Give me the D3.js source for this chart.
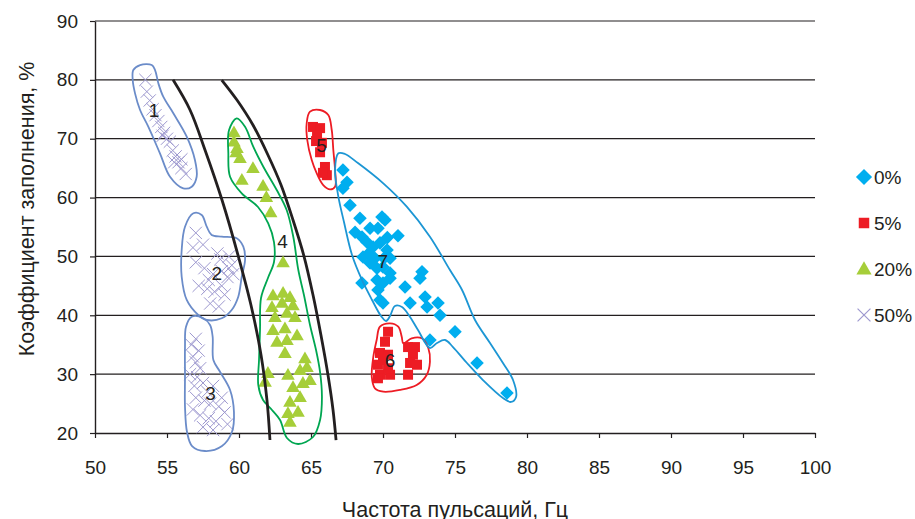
<!DOCTYPE html>
<html>
<head>
<meta charset="utf-8">
<script src="https://cdn.jsdelivr.net/npm/d3@7"></script>
<style>
  html, body { margin: 0; padding: 0; background: #fff; }
  svg { display: block; font-family: "Liberation Sans", Arial, Helvetica, sans-serif; }
</style>
</head>
<body>
<svg id="chart" width="915" height="519"></svg>
<script>
// Pulsation frequency (Hz) vs fill factor (%), by additive share
const xTicks = [50, 55, 60, 65, 70, 75, 80, 85, 90, 95, 100];
const yTicks = [20, 30, 40, 50, 60, 70, 80, 90];
const seriesNames = ["0%", "5%", "20%", "50%"];

// 0% — diamonds
const points0 = [
  [67.22, 64.7], [67.5, 62.6], [67.22, 61.6], [67.71, 58.7], [68.4, 56.5], [69.93, 56.7],
  [71.04, 53.5], [68.06, 54.1], [68.54, 53.3], [69.1, 54.8], [69.65, 54.8], [68.89, 52.4],
  [69.31, 51.6], [69.79, 52.3], [70.28, 51.1], [70.49, 49.7], [68.61, 49.9], [69.1, 48.9],
  [69.58, 48.0], [70.0, 48.2], [70.49, 47.2], [68.54, 45.5], [69.58, 46.0], [70.0, 45.5],
  [70.49, 46.3], [69.65, 44.3], [71.53, 44.8], [72.71, 47.4], [72.57, 46.3], [72.92, 43.1],
  [73.82, 42.1], [71.88, 42.1], [69.79, 42.6], [70.0, 42.1], [73.06, 41.4], [73.96, 40.0],
  [73.26, 35.8], [75.0, 37.2], [76.53, 31.9], [78.61, 26.8], [70.14, 56.2], [70.07, 49.7],
  [69.44, 49.7], [69.0, 50.5], [70.3, 53.2]
];
// 5% — squares
const points5 = [
  [65.14, 72.0], [65.63, 71.8], [65.42, 70.6], [65.76, 69.3], [65.63, 67.7], [65.97, 65.2],
  [66.1, 63.8], [65.83, 64.2], [65.35, 69.6],
  [70.35, 37.2], [70.14, 35.5], [69.79, 33.6], [69.65, 31.6], [69.79, 29.9], [70.49, 29.9],
  [70.35, 31.0], [70.35, 33.3], [71.74, 34.6], [72.22, 34.6], [72.08, 33.3], [71.88, 31.9],
  [71.74, 29.9], [72.36, 31.6], [70.0, 32.4], [69.65, 29.3]
];
// 20% — triangles
const points20 = [
  [59.65, 71.1], [59.65, 69.5], [59.86, 68.4], [59.8, 67.7], [60.07, 66.7], [60.97, 65.0],
  [60.2, 63.0], [61.67, 62.0], [61.9, 60.1], [62.2, 57.5], [63.06, 49.0],
  [62.36, 43.4], [63.06, 43.8], [63.54, 43.1], [62.29, 41.4], [62.99, 42.1], [63.75, 41.7],
  [62.5, 39.7], [63.33, 40.4], [63.89, 39.7], [62.36, 37.5], [63.19, 37.8], [64.03, 36.6],
  [62.64, 35.5], [63.33, 35.8], [63.19, 33.6], [64.58, 32.7], [62.01, 30.2], [61.81, 28.7],
  [63.4, 29.9], [64.24, 30.7], [64.72, 31.2], [64.93, 29.0], [63.75, 27.8], [64.44, 28.5],
  [64.24, 26.1], [63.54, 25.3], [63.4, 23.4], [64.1, 23.6], [63.54, 21.9]
];
// 50% — crosses
const points50 = [
  [53.5, 80], [53.6, 78], [53.8, 76.5], [54.0, 75], [54.2, 74], [54.4, 73], [54.6, 72],
  [54.8, 71], [55.0, 70], [55.2, 69.5], [55.4, 68], [55.6, 67], [55.8, 66], [56.0, 65],
  [56.3, 64], [55.5, 66], [54.7, 70.5], [56.0, 66.5],
  [57.0, 54], [56.8, 51.5], [57.5, 52], [58.5, 50.5], [59.3, 50], [59.5, 48.5], [57.0, 49],
  [57.6, 48], [58.2, 47], [58.8, 47.5], [59.2, 46.5], [57.2, 45], [57.8, 44.5], [58.3, 44],
  [58.8, 45], [59.0, 43.5], [58.0, 42], [58.6, 41.5], [59.3, 48], [58.7, 49.5], [57.9, 46],
  [59.6, 47],
  [57.0, 36], [56.7, 35], [57.2, 34], [56.8, 33], [57.0, 32], [57.3, 31], [56.6, 30],
  [57.1, 29.5], [56.9, 28], [57.5, 28.5], [57.8, 27], [58.2, 28], [57.0, 26], [57.6, 25.5],
  [58.0, 25], [58.6, 24.5], [59.0, 23.5], [57.3, 23], [57.9, 22.5], [58.4, 22], [57.5, 21],
  [58.2, 20.5], [59.2, 21.5], [56.8, 24], [58.8, 26]
];

// Boundary curves
const boundaryA = [
  [55.42, 80.0], [56.60, 74.88], [57.64, 68.09], [58.82, 59.59], [59.93, 50.24],
  [60.83, 41.75], [61.53, 33.25], [61.94, 25.61], [62.15, 18.81]
];
const boundaryB = [
  [58.80, 79.97], [59.86, 76.57], [60.97, 72.32], [62.01, 67.23], [62.92, 62.13], [63.75, 56.19],
  [64.51, 50.07], [65.14, 43.45], [65.69, 36.65], [66.18, 29.85], [66.53, 23.91], [66.74, 18.81]
];

// Group outlines
const outline1 = [
  [52.66, 81.67], [53.13, 82.52], [53.94, 82.52], [54.17, 81.67], [54.40, 79.41], [54.74, 77.14],
  [55.44, 74.32], [56.37, 70.34], [56.94, 66.38], [57.06, 63.54], [56.72, 61.85], [56.13, 61.57],
  [55.21, 63.54], [54.51, 67.52], [53.70, 72.04], [53.13, 74.88], [52.78, 77.71], [52.62, 79.97]
];
const outline2 = [
  [56.83, 57.33], [57.41, 57.04], [57.76, 55.05], [58.10, 53.64], [58.80, 53.35], [59.84, 53.08],
  [60.30, 51.65], [60.42, 49.39], [60.19, 46.55], [59.95, 43.16], [59.49, 40.90], [58.80, 39.49],
  [57.76, 39.20], [57.17, 40.05], [56.37, 42.60], [56.02, 46.55], [56.02, 51.09], [56.25, 55.05]
];
const outline3 = [
  [56.72, 39.76], [57.52, 39.49], [57.99, 38.35], [58.17, 36.36], [58.22, 32.40], [58.68, 30.41],
  [59.38, 27.31], [59.65, 23.57], [59.51, 20.17], [58.82, 17.79], [57.64, 16.94], [56.74, 17.79],
  [56.39, 20.17], [56.25, 24.47], [56.25, 29.57], [56.25, 34.66], [56.32, 38.06]
];
const outline4 = [
  [59.84, 73.47], [60.42, 72.04], [60.99, 68.64], [61.69, 65.24], [62.62, 61.28], [63.31, 57.89],
  [63.77, 53.35], [64.12, 47.69], [64.51, 43.45], [64.93, 38.35], [65.35, 34.10], [65.63, 30.36],
  [65.76, 26.12], [65.63, 22.21], [65.14, 19.32], [64.10, 18.13], [63.33, 19.15], [62.85, 22.21],
  [62.29, 23.91], [61.67, 25.61], [61.34, 28.15], [61.39, 32.40], [61.46, 37.50], [61.53, 42.94],
  [62.01, 46.33], [62.43, 49.05], [62.43, 52.45], [62.03, 55.63], [61.32, 58.40], [60.19, 60.72],
  [59.38, 63.54], [59.26, 67.52], [59.31, 71.48]
];
const outline5 = [
  [64.93, 74.59], [65.63, 74.88], [66.20, 74.03], [66.44, 71.48], [66.55, 68.08], [66.67, 64.68],
  [66.67, 61.85], [66.32, 61.40], [65.85, 62.13], [65.40, 64.12], [65.05, 66.38], [64.74, 69.78],
  [64.70, 72.62]
];
const outline6 = [
  [69.79, 38.06], [70.49, 38.64], [71.06, 38.06], [71.30, 36.36], [71.41, 35.24], [71.99, 36.09],
  [72.69, 36.09], [73.15, 34.39], [73.26, 32.11], [73.03, 29.85], [72.34, 28.15], [71.18, 27.31],
  [70.02, 27.02], [69.44, 27.59], [69.22, 29.57], [69.33, 32.96], [69.56, 35.80]
];
const outline7 = [
  [66.90, 67.52], [67.36, 67.40], [68.26, 65.87], [70.02, 62.42], [71.65, 58.45], [73.26, 53.35],
  [74.65, 47.69], [75.49, 44.30], [76.39, 39.20], [77.43, 35.29], [78.33, 31.89], [79.03, 29.00],
  [79.24, 26.12], [78.89, 25.27], [78.33, 25.95], [76.94, 29.00], [75.83, 31.89], [74.86, 34.61],
  [74.31, 35.80], [73.75, 35.29], [73.26, 34.44], [72.43, 37.50], [71.88, 39.71], [71.32, 41.41],
  [70.83, 41.58], [70.49, 39.88], [70.21, 39.03], [69.86, 39.88], [69.24, 42.60], [68.54, 46.00],
  [67.85, 50.24], [67.29, 55.85], [66.88, 60.43], [66.67, 64.68]
];

// Group numbers and their positions
const groupLabels = ["1", "2", "3", "4", "5", "6", "7"];
const groupLabelPos = [
  [54.10, 74.88], [58.45, 47.18], [58.03, 26.80], [63.03, 52.50], [65.74, 68.93], [70.49, 32.40], [69.98, 49.10]
];

const ink = "#231f20";
const colors = { d0: "#00aeef", d5: "#ed1c24", d20: "#a6ce39", d50: "#9d98cf" };
const outlineColors = ["#6b8cc9", "#6b8cc9", "#6b8cc9", "#00a651", "#ed1c24", "#ed1c24", "#1c96d4"];

const svg = d3.select("#chart");
const x = d3.scaleLinear().domain([50, 100]).range([95, 815]);
const y = d3.scaleLinear().domain([20, 90]).range([433, 21]);

// Horizontal grid
svg.append("g")
  .selectAll("line")
  .data(yTicks.filter(v => v > 20))
  .join("line")
  .attr("x1", x(50)).attr("x2", x(100))
  .attr("y1", d => y(d)).attr("y2", d => y(d))
  .attr("stroke", ink).attr("stroke-width", 1.2);

// Axes
const yAxis = svg.append("g")
  .attr("transform", `translate(${x(50)},0)`)
  .call(d3.axisLeft(y).tickValues(yTicks).tickSize(5).tickPadding(12).tickSizeOuter(0));
const xAxis = svg.append("g")
  .attr("transform", `translate(0,${y(20)})`)
  .call(d3.axisBottom(x).tickValues(xTicks).tickSize(5).tickPadding(36).tickSizeOuter(0));
[xAxis, yAxis].forEach(g => {
  g.select(".domain").attr("stroke", ink).attr("stroke-width", 1.4);
  g.selectAll(".tick line").attr("stroke", ink).attr("stroke-width", 1.2);
  g.selectAll("text").attr("fill", ink).style("font-size", "19px");
});
xAxis.selectAll("text").attr("dy", "0");

// Axis titles
svg.append("text")
  .attr("x", (x(50) + x(100)) / 2).attr("y", 517)
  .attr("text-anchor", "middle").attr("fill", ink).style("font-size", "21.5px")
  .text("Частота пульсаций, Гц");
svg.append("text")
  .attr("transform", `translate(34,${209}) rotate(-90)`)
  .attr("text-anchor", "middle").attr("fill", ink).style("font-size", "21.5px")
  .text("Коэффициент заполнения, %");

// Markers
const plot = svg.append("g");
const diamond = d3.symbol(d3.symbolSquare, 92);
const square = d3.symbol(d3.symbolSquare, 100);
const triangle = d3.symbol(d3.symbolTriangle, 80);
const cross = d3.symbol(d3.symbolTimes, 100);

plot.append("g").selectAll("path").data(points0).join("path")
  .attr("d", diamond)
  .attr("transform", d => `translate(${x(d[0])},${y(d[1])}) rotate(45)`)
  .attr("fill", colors.d0);
plot.append("g").selectAll("path").data(points5).join("path")
  .attr("d", square)
  .attr("transform", d => `translate(${x(d[0])},${y(d[1])})`)
  .attr("fill", colors.d5);
plot.append("g").selectAll("path").data(points20).join("path")
  .attr("d", triangle)
  .attr("transform", d => `translate(${x(d[0])},${y(d[1]) + 1})`)
  .attr("fill", colors.d20);
plot.append("g").selectAll("path").data(points50).join("path")
  .attr("d", cross)
  .attr("transform", d => `translate(${x(d[0])},${y(d[1])})`)
  .attr("fill", "none").attr("stroke", colors.d50).attr("stroke-width", 1);

// Group outlines
const closed = d3.line().x(d => x(d[0])).y(d => y(d[1])).curve(d3.curveCatmullRomClosed.alpha(0.5));
[outline1, outline2, outline3, outline4, outline5, outline6, outline7].forEach((pts, i) => {
  plot.append("path")
    .attr("d", closed(pts))
    .attr("fill", "none")
    .attr("stroke", outlineColors[i])
    .attr("stroke-width", 1.8);
});

// Boundary curves
const open = d3.line().x(d => x(d[0])).y(d => y(d[1])).curve(d3.curveCatmullRom.alpha(0.5));
[boundaryA, boundaryB].forEach(pts => {
  plot.append("path")
    .attr("d", open(pts))
    .attr("fill", "none")
    .attr("stroke", ink)
    .attr("stroke-width", 2.8);
});

// Group numbers
plot.append("g").selectAll("text").data(groupLabels).join("text")
  .attr("x", (d, i) => x(groupLabelPos[i][0]))
  .attr("y", (d, i) => y(groupLabelPos[i][1]))
  .attr("dy", "0.35em")
  .attr("text-anchor", "middle")
  .attr("fill", ink)
  .style("font-size", "19px")
  .text(d => d);

// Legend
const legendSymbols = [
  { sym: d3.symbol(d3.symbolSquare, 130), rot: 45, fill: colors.d0 },
  { sym: d3.symbol(d3.symbolSquare, 110), rot: 0, fill: colors.d5 },
  { sym: d3.symbol(d3.symbolTriangle, 100), rot: 0, fill: colors.d20 },
  { sym: d3.symbol(d3.symbolTimes, 110), rot: 0, stroke: colors.d50 }
];
const legend = svg.append("g");
seriesNames.forEach((name, i) => {
  const cy = 177 + i * 46;
  const s = legendSymbols[i];
  legend.append("path")
    .attr("d", s.sym)
    .attr("transform", `translate(864,${cy + (i === 2 ? 1 : 0)}) rotate(${s.rot})`)
    .attr("fill", s.fill || "none")
    .attr("stroke", s.stroke || "none")
    .attr("stroke-width", 1.2);
  legend.append("text")
    .attr("x", 874).attr("y", cy).attr("dy", "0.36em")
    .attr("fill", ink).style("font-size", "19px")
    .text(name);
});
</script>
</body>
</html>
